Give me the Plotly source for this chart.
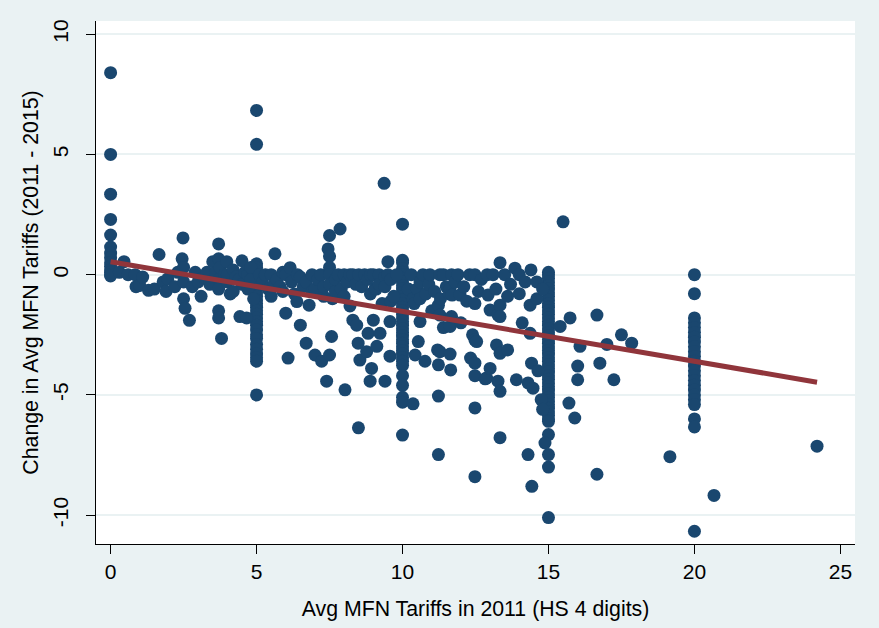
import plotly.graph_objects as go

# ---------------- data ----------------
# Products whose 2011 average tariff sits exactly on a round value form vertical columns
column_tariffs = [0, 5, 10, 15, 20]
col0_changes = [8.4, 5.0, 3.35, 2.3, 1.65, 1.15, 0.9, 0.7, 0.5, 0.35, 0.2, 0.1, 0.0, -0.05]
col5_changes = [6.83, 5.42, 0.45, 0.3, 0.15, 0.0, -0.1, -0.2, -0.3, -0.45, -0.6, -0.75, -0.9,
                -1.05, -1.2, -1.35, -1.5, -1.65, -1.8, -1.95, -2.1, -2.3, -2.5, -2.65, -2.9,
                -3.1, -3.3, -3.45, -3.6, -5.0]
col10_changes = [2.1, 0.6, 0.5, 0.25, 0.1, 0.0, -0.15, -0.3, -0.45, -0.6, -0.75, -0.9, -1.05,
                 -1.2, -1.35, -1.5, -1.65, -1.8, -1.95, -2.1, -2.25, -2.4, -2.55, -2.7, -2.85,
                 -3.0, -3.15, -3.3, -3.45, -3.6, -3.77, -4.2, -4.6, -5.1, -5.3, -6.67]
col15_changes = [0.1, 0.0, -0.15, -0.3, -0.45, -0.6, -0.75, -0.9, -1.05, -1.2, -1.35, -1.5,
                 -1.65, -1.8, -1.95, -2.1, -2.25, -2.4, -2.55, -2.7, -2.85, -3.0, -3.15, -3.3,
                 -3.45, -3.6, -3.75, -3.9, -4.05, -4.2, -4.35, -4.5, -4.65, -4.8, -4.95, -5.1,
                 -5.25, -5.4, -5.55, -5.7, -5.85, -6.0, -6.1, -6.65, -7.48, -8.0, -10.1]
col20_changes = [0.0, -0.79, -1.8, -2.0, -2.2, -2.4, -2.6, -2.8, -3.0, -3.2, -3.4, -3.6, -3.8,
                 -4.0, -4.2, -4.4, -4.6, -4.8, -5.0, -5.2, -5.4, -6.0, -6.33, -10.67]

# Remaining products: 2011 tariff and change 2011-2015
other_tariff_2011 = [
    0.3, 0.46, 0.6, 0.84, 0.87, 1.0, 1.1, 1.3, 1.5, 1.66, 1.8, 1.9, 1.96, 2.2, 2.3, 2.48, 2.45,
    2.5, 2.5, 2.5, 2.55, 2.7, 2.8, 2.9, 3.0, 3.1,
    3.2, 3.3, 3.4, 3.5, 3.6, 3.7, 3.7, 3.75, 3.7, 3.7, 3.7, 3.7, 3.8, 3.9, 3.98, 4.0, 4.0, 4.1,
    4.2, 4.2, 4.3, 4.4, 4.43, 4.5, 4.5, 4.6, 4.66, 4.7, 4.7, 4.8, 4.8, 4.9,
    5.1, 5.2, 5.3, 5.4, 5.5, 5.5, 5.6, 5.63, 5.7, 5.8, 5.9, 5.9, 6.0, 6.0, 6.08, 6.15, 6.2, 6.3,
    6.38, 6.4, 6.5, 6.5, 6.6, 6.7, 6.7, 6.8, 6.9, 6.9, 7.0, 7.0, 7.1, 7.2, 7.23, 7.3, 7.3, 7.4,
    7.45, 7.5, 7.5, 7.5, 7.5, 7.5, 7.5, 7.57, 7.6,
    7.7, 7.7, 7.8, 7.86, 7.9, 8.0, 8.0, 8.03, 8.1, 8.2, 8.2, 8.3, 8.3, 8.4, 8.43, 8.48, 8.49, 8.5,
    8.54, 8.6, 8.7, 8.77, 8.8, 8.82, 8.89, 8.9, 8.9, 8.94, 9.0, 9.0, 9.06, 9.1, 9.12, 9.2, 9.2,
    9.23, 9.3, 9.37, 9.4, 9.4, 9.4, 9.5, 9.5, 9.57, 9.57, 9.6, 9.6, 9.7, 9.8,
    10.2, 10.3, 10.36, 10.36, 10.4, 10.43, 10.5, 10.54, 10.6, 10.6, 10.6, 10.7, 10.77, 10.8, 10.9,
    10.94, 11.0, 11.1, 11.2, 11.23, 11.23, 11.23, 11.23, 11.28, 11.28, 11.28, 11.3, 11.4, 11.4,
    11.5, 11.6, 11.63, 11.63, 11.63, 11.65, 11.68, 11.68, 11.7, 11.8, 11.9, 11.97, 12.0, 12.1,
    12.2, 12.3, 12.33, 12.4, 12.48, 12.48, 12.48, 12.48, 12.48, 12.48, 12.48, 12.54, 12.6,
    12.7, 12.83, 12.88, 12.9, 12.93, 13.0, 13.0, 13.1, 13.2, 13.22, 13.27, 13.27, 13.34, 13.34,
    13.34, 13.34, 13.34, 13.34, 13.5, 13.6, 13.6, 13.7, 13.85, 13.9, 14.0, 14.0, 14.1, 14.2, 14.3,
    14.3, 14.37, 14.37, 14.4, 14.42, 14.43, 14.47, 14.6, 14.6, 14.64, 14.75, 14.8, 14.8, 14.88,
    15.4, 15.5, 15.7, 15.74, 15.9, 16.0, 16.0, 16.08, 16.66, 16.66, 16.76, 17.0, 17.24, 17.5,
    17.85, 19.16, 20.67, 24.2,
]
other_change = [
    0.1, 0.54, 0.0, 0.0, -0.5, -0.45, -0.1, -0.65, -0.6, 0.84, -0.3, -0.7, -0.17, -0.5, 0.1, 1.53,
    0.66, 0.3, -0.3, -1.0, -1.4, -1.9, -0.5, 0.1, -0.3, -0.9,
    -0.1, 0.1, -0.4, 0.54, 0.1, 1.28, 0.66, 0.3, -0.2, -0.6, -1.5, -1.8, -2.65, 0.0, 0.54, -0.3,
    0.0, -0.8, -0.7, 0.2, -0.1, -0.2, -1.74, 0.58, -0.4, 0.1, -1.8, -0.6, 0.0, 0.3, -0.2, -1.0,
    0.0, -0.3, 0.0, -0.6, -0.9, 0.0, -0.4, 0.87, -0.2, -0.5, 0.1, -0.7, -1.6, 0.0, -3.47, 0.29,
    -0.3, -0.8, -1.12, 0.0, -2.1, -0.1, -0.5, -2.85, -0.3, -1.27, 0.0, -0.7, -3.34, -0.6, -0.2,
    0.0, -3.6, -0.9, -0.5, -4.43, 1.07, 1.63, 0.76, 0.3, 0.0, -0.4, -3.34, -2.57, -1.0,
    -0.2, -0.7, 0.0, 1.9, -0.6, 0.0, -0.9, -4.79, -0.3, -1.3, 0.0, -1.89, 0.0, -0.4, -2.1, -2.85,
    -6.37, 0.0, -3.55, -0.5, 0.0, -3.2, -0.2, -2.44, -4.43, -0.8, 0.0, -3.9, -1.89, 0.0, -0.58,
    -0.6, -2.98, 0.0, -0.4, -2.44, -1.2, 3.8, -0.1, -0.5, -4.43, 0.54, 0.0, -1.95, -3.39, -0.2,
    -1.1, -0.9, 0.0,
    -0.6, 0.0, -1.0, -5.37, -1.2, -3.34, -0.6, -2.78, -1.95, -0.3, -1.0, 0.0, -3.6, -0.8, -0.4,
    0.0, -1.5, -0.7, -3.13, -1.27, -3.75, -5.05, -7.48, 0.0, -1.68, -3.2, -1.0, 0.0, -2.2,
    -0.5, -0.8, -0.58, -2.15, -3.3, -3.96, 0.0, -1.74, -0.85, -0.3, 0.0, -0.85, -2.0, -0.5,
    -1.1, 0.0, -3.47, -2.5, 0.0, -1.2, -2.72, -3.68, -4.2, -5.54, -8.4, -2.78, -0.7,
    -0.2, -4.33, -4.3, 0.0, -0.85, -1.47, -3.9, 0.0, -0.6, -2.92, -1.68, -4.43, 0.5, -1.27,
    -1.74, -3.27, -4.85, -6.78, 0.0, -0.9, -3.13, -0.4, 0.27, -4.37, -0.79, 0.0, -2.0, -0.3, -4.5,
    -7.48, -1.27, -2.44, 0.2, -3.68, -8.8, -4.72, -0.3, -1.0, -4.0, -5.2, -0.6, -5.6, -7.0,
    -2.15, 2.2, -5.34, -1.8, -5.96, -3.8, -4.37, -2.98, -1.68, -8.3, -3.68, -2.9, -4.37, -2.5,
    -2.85, -7.57, -9.18, -7.13,
]

# Linear fit line
fit_tariff = [0.0, 24.2]
fit_change = [0.54, -4.47]

x_ticks = [0, 5, 10, 15, 20, 25]
y_ticks = [-10, -5, 0, 5, 10]
y_tick_labels = ["-10", "-5", "0", "5", "10"]

# ---------------- assemble ----------------
columns = [col0_changes, col5_changes, col10_changes, col15_changes, col20_changes]
xs, ys = [], []
for t, vals in zip(column_tariffs, columns):
    xs += [t] * len(vals)
    ys += vals
xs += other_tariff_2011
ys += other_change

NAVY = "#1A476F"
MAROON = "#90353B"
BG = "#EAF2F3"
FONT = "Liberation Sans, Arial, Helvetica, sans-serif"

fig = go.Figure()
fig.add_trace(go.Scatter(
    x=xs, y=ys, mode="markers",
    marker=dict(color=NAVY, size=13, line=dict(width=0)),
    showlegend=False,
))
fig.add_trace(go.Scatter(
    x=fit_tariff, y=fit_change, mode="lines",
    line=dict(color=MAROON, width=5),
    showlegend=False,
))

fig.update_layout(
    width=879, height=628,
    margin=dict(l=96, r=24, t=21, b=81),
    paper_bgcolor=BG, plot_bgcolor="white",
    font=dict(family=FONT, color="black", size=21),
    xaxis=dict(
        range=[-0.5, 25.5], tickvals=x_ticks,
        ticks="outside", ticklen=9, tickwidth=1.3, tickcolor="black",
        showline=True, linecolor="black", linewidth=1.3,
        showgrid=False, zeroline=False,
        tickfont=dict(size=21),
        title=dict(text="Avg MFN Tariffs in 2011 (HS 4 digits)", font=dict(size=21.3), standoff=18),
    ),
    yaxis=dict(
        range=[-11.2, 10.55], tickvals=y_ticks, ticktext=y_tick_labels, tickangle=-90,
        ticks="outside", ticklen=9, tickwidth=1.3, tickcolor="black",
        showline=True, linecolor="black", linewidth=1.3,
        showgrid=True, gridcolor=BG, gridwidth=1.5, zeroline=False,
        tickfont=dict(size=21), ticklabelstandoff=9,
        title=dict(text="Change in Avg MFN Tariffs (2011 - 2015)", font=dict(size=21.3), standoff=4),
    ),
)

fig.write_html("out.html")
